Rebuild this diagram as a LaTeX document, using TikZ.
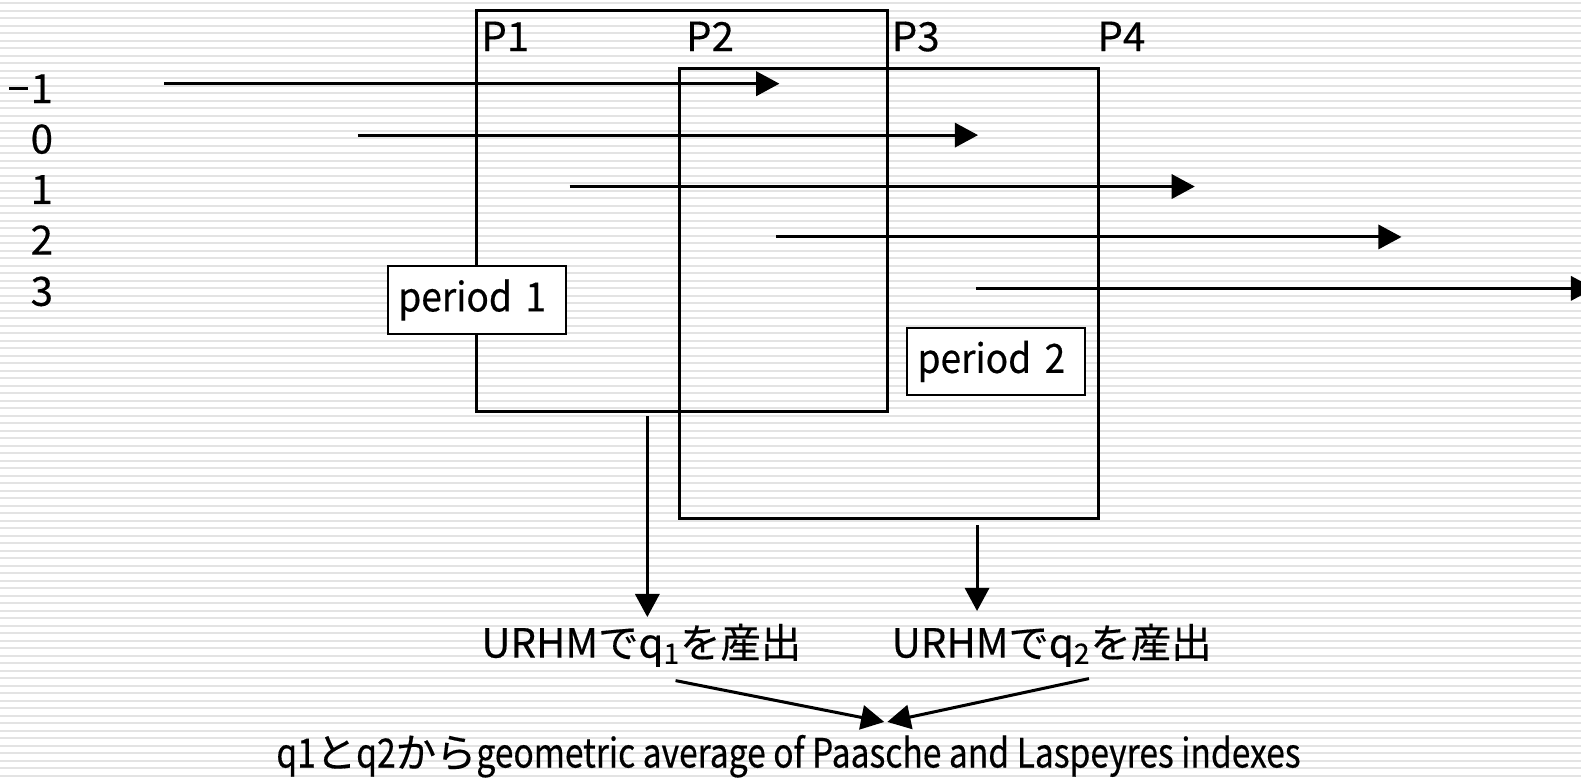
\documentclass[tikz,border=0pt]{standalone}
\usepackage{fontspec}
\setmainfont{Noto Sans CJK JP}[FakeBold=0.4]
\newfontfamily\jp{Noto Sans CJK JP}[FakeBold=0.4]
\newfontfamily\perfont{Noto Sans CJK JP}[FakeStretch=0.92,FakeBold=0.4]
\newfontfamily\resfont{Noto Sans CJK JP}[FakeStretch=0.833,FakeBold=0.4]
\usetikzlibrary{arrows.meta}
\newcommand{\mydash}{\rule[6.5pt]{9pt}{1.4pt}\hspace{1.5pt}}
\begin{document}
\begin{tikzpicture}[x=0.5pt,y=-0.5pt,
  txt/.style={inner sep=0pt,font=\fontsize{20}{24}\selectfont},
  conn/.style={line width=1.5pt,-{Triangle[length=11.5pt,width=12pt]}},
  frame/.style={line width=1.5pt},
  pbox/.style={txt,font=\fontsize{20}{24}\perfont,draw,line width=1pt,fill=white,minimum height=33.5pt,inner xsep=5pt,text width=78pt,align=left}]
\useasboundingbox (0,0) rectangle (1568,772);
\fill[white] (0,0) rectangle (1568,772);
\foreach \i in {0,...,103}{\draw[line width=1pt,gray!22] (0,{3+\i*7.44}) -- (1568,{3+\i*7.44});}
% big frames
\draw[frame] (473,10) rectangle (880,408);
\draw[frame] (674,68) rectangle (1089,514);
\node[txt,anchor=north west] (P1) at (477,21) {P1};
\node[txt,anchor=north west] (P2) at (680,21) {P2};
\node[txt,anchor=north west] (P3) at (884,21) {P3};
\node[txt,anchor=north west] (P4) at (1088,21) {P4};
% row labels
\node[txt,anchor=east] (rm1) at (53,88) {\mydash1};
\node[txt,anchor=east] (r0) at (53,138) {0};
\node[txt,anchor=east] (r1) at (53,188) {1};
\node[txt,anchor=east] (r2) at (53,238) {2};
\node[txt,anchor=east] (r3) at (53,289) {3};
% row arrows
\coordinate (am1s) at (163,83); \coordinate (am1e) at (773,83);
\coordinate (a0s) at (355,134); \coordinate (a0e) at (970,134);
\coordinate (a1s) at (565,185); \coordinate (a1e) at (1185,185);
\coordinate (a2s) at (770,235); \coordinate (a2e) at (1390,235);
\coordinate (a3s) at (968,286); \coordinate (a3e) at (1581,286);
\draw[conn] (am1s) -- (am1e);
\draw[conn] (a0s) -- (a0e);
\draw[conn] (a1s) -- (a1e);
\draw[conn] (a2s) -- (a2e);
\draw[conn] (a3s) -- (a3e);
% period boxes
\node[pbox] (per1) at (473,297.5) {period 1};
\node[pbox] (per2) at (988,358.5) {period 2};
% outputs
\node[txt] (q1) at (636,640) {URHM{\jp で}q\textsubscript{1}{\jp を産出}};
\node[txt] (q2) at (1043,640) {URHM{\jp で}q\textsubscript{2}{\jp を産出}};
\node[txt,font=\fontsize{20}{24}\resfont] (res) at (782,750) {q1{\jp と}q2{\jp から}geometric average of Paasche and Laspeyres indexes};
\coordinate (d1s) at (642,413); \coordinate (d1e) at (642,612);
\coordinate (d2s) at (969,521); \coordinate (d2e) at (969,606);
\draw[conn] (d1s) -- (d1e);
\draw[conn] (d2s) -- (d2e);
\coordinate (c1s) at (670,675); \coordinate (c1e) at (877,716);
\coordinate (c2s) at (1080,673); \coordinate (c2e) at (880,716);
\draw[conn] (c1s) -- (c1e);
\draw[conn] (c2s) -- (c2e);
\end{tikzpicture}
\end{document}
